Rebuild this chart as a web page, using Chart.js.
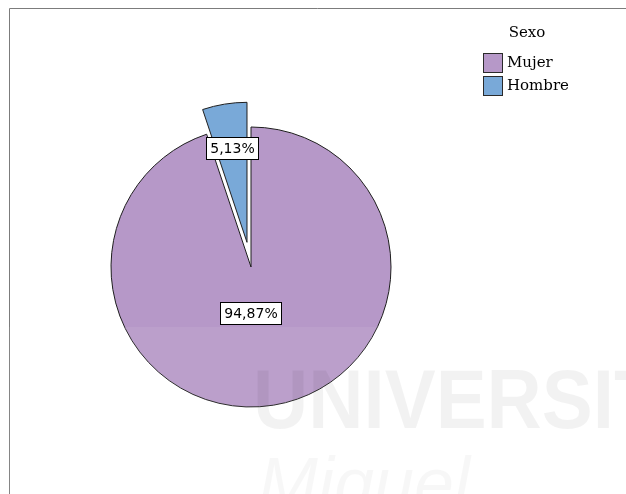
<!DOCTYPE html>
<html>
<head>
<meta charset="utf-8">
<title>Sexo</title>
<script src="https://cdn.jsdelivr.net/npm/chart.js@4/dist/chart.umd.min.js"></script>
<style>
  html, body { margin: 0; padding: 0; background: #ffffff; }
  canvas { display: block; }
</style>
</head>
<body>
<canvas id="chart" width="626" height="494"></canvas>
<script>
// Categories and their shares (percent)
const categories = ['Mujer', 'Hombre'];
const percentages = [94.87, 5.13];
const legendTitle = 'Sexo';

// Slice styling
const sliceColors = ['#b698c8', '#79a9d8'];
const sliceBorder = '#1e1e1e';

// Format a share with a decimal comma, e.g. 94,87%
function formatPct(v) {
  return v.toFixed(2).replace('.', ',') + '%';
}

// Chart frame: thin grey lines along the top and left edges
const framePlugin = {
  id: 'frame',
  beforeDraw(chart) {
    const ctx = chart.ctx;
    ctx.save();
    ctx.strokeStyle = '#7c7c7c';
    ctx.lineWidth = 1;
    ctx.beginPath();
    ctx.moveTo(9.5, chart.height);
    ctx.lineTo(9.5, 8.5);
    ctx.lineTo(chart.width, 8.5);
    ctx.stroke();
    ctx.restore();
  }
};

// Pulls selected slices outward along their bisector, keeping their radius
const explodePlugin = {
  id: 'explode',
  beforeDatasetDraw(chart, args, opts) {
    const ctx = chart.ctx;
    args.meta.data.forEach((arc, i) => {
      const d = (opts.distance && opts.distance[i]) || 0;
      const mid = (arc.startAngle + arc.endAngle) / 2;
      ctx.save();
      ctx.translate(Math.cos(mid) * d, Math.sin(mid) * d);
      arc.draw(ctx, chart.chartArea);
      ctx.restore();
    });
    return false;
  }
};

// Boxed percentage labels placed on each slice's bisector
const boxLabelPlugin = {
  id: 'boxLabels',
  afterDatasetsDraw(chart, args, opts) {
    const ctx = chart.ctx;
    const meta = chart.getDatasetMeta(0);
    const values = chart.data.datasets[0].data;
    const explode = chart.options.plugins.explode.distance;
    ctx.save();
    ctx.font = opts.font;
    ctx.textAlign = 'center';
    ctx.textBaseline = 'middle';
    meta.data.forEach((arc, i) => {
      const mid = (arc.startAngle + arc.endAngle) / 2;
      const r = (explode[i] || 0) + opts.radiusFraction[i] * arc.outerRadius;
      const cx = arc.x + Math.cos(mid) * r + (opts.nudgeX[i] || 0);
      const cy = arc.y + Math.sin(mid) * r;
      const text = formatPct(values[i]);
      const w = Math.round(ctx.measureText(text).width + opts.padX * 2);
      const h = opts.boxHeight;
      const x0 = Math.round(cx - w / 2) + 0.5;
      const y0 = Math.round(cy - h / 2) + 0.5;
      ctx.fillStyle = '#ffffff';
      ctx.fillRect(x0, y0, w, h);
      ctx.strokeStyle = '#000000';
      ctx.lineWidth = 1;
      ctx.strokeRect(x0, y0, w, h);
      ctx.fillStyle = '#000000';
      ctx.fillText(text, x0 + w / 2, y0 + h / 2 + 0.5);
    });
    ctx.restore();
  }
};

// Legend with title and square swatches, top right
const sideLegendPlugin = {
  id: 'sideLegend',
  afterDraw(chart, args, opts) {
    const ctx = chart.ctx;
    const ds = chart.data.datasets[0];
    ctx.save();
    ctx.font = opts.font;
    ctx.fillStyle = '#000000';
    ctx.textBaseline = 'middle';
    ctx.textAlign = 'center';
    ctx.fillText(opts.title, opts.titleX, opts.titleY);
    ctx.textAlign = 'left';
    chart.data.labels.forEach((label, i) => {
      const y = opts.firstY + i * opts.rowStep;
      ctx.fillStyle = ds.backgroundColor[i];
      ctx.fillRect(opts.x + 0.5, y + 0.5, opts.box, opts.box);
      ctx.strokeStyle = '#2a2a2a';
      ctx.lineWidth = 1;
      ctx.strokeRect(opts.x + 0.5, y + 0.5, opts.box, opts.box);
      ctx.fillStyle = '#000000';
      ctx.fillText(label, opts.x + opts.box + 5, y + opts.box / 2 + 1);
    });
    ctx.restore();
  }
};

// Faint university watermark across the lower part
const watermarkPlugin = {
  id: 'watermark',
  afterDraw(chart) {
    const ctx = chart.ctx;
    ctx.save();
    ctx.fillStyle = 'rgba(255,255,255,0.07)';
    ctx.fillRect(0, 327, chart.width, chart.height - 327);
    ctx.fillStyle = 'rgba(0,0,0,0.05)';
    ctx.font = 'bold 84px "Liberation Sans"';
    ctx.textBaseline = 'alphabetic';
    ctx.translate(253, 428);
    ctx.scale(0.91, 1);
    ctx.fillText('UNIVERSITAS', 0, 0);
    ctx.restore();
    ctx.save();
    ctx.fillStyle = 'rgba(0,0,0,0.03)';
    ctx.font = 'italic 72px "Liberation Sans"';
    ctx.textBaseline = 'alphabetic';
    ctx.fillText('Miguel', 258, 508);
    ctx.restore();
  }
};

new Chart(document.getElementById('chart'), {
  type: 'pie',
  data: {
    labels: categories,
    datasets: [{
      data: percentages,
      backgroundColor: sliceColors,
      borderColor: sliceBorder,
      borderWidth: 1,
      hoverOffset: 0
    }]
  },
  options: {
    responsive: false,
    animation: false,
    radius: 140,
    layout: { padding: { left: 0, right: 124, top: 40, bottom: 0 } },
    plugins: {
      legend: { display: false },
      tooltip: { enabled: false },
      explode: { distance: [0, 25] },
      boxLabels: {
        font: '14px "DejaVu Sans"',
        radiusFraction: [0.33, 0.68],
        nudgeX: [-8, 0],
        padX: 4,
        boxHeight: 22
      },
      sideLegend: {
        title: legendTitle,
        font: '15px "DejaVu Serif"',
        titleX: 527,
        titleY: 33,
        x: 483,
        firstY: 53,
        rowStep: 23,
        box: 19
      }
    }
  },
  plugins: [framePlugin, explodePlugin, boxLabelPlugin, sideLegendPlugin, watermarkPlugin]
});
</script>
</body>
</html>
